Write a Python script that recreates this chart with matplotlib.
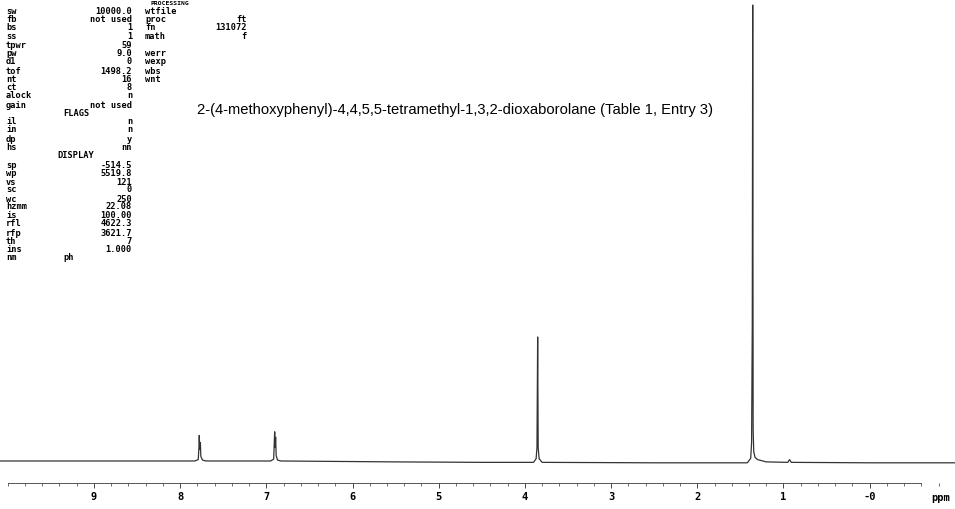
import matplotlib.pyplot as plt

# spectrum trace: (ppm, intensity), tallest peak = 100
ppm = [10.09, 9.0, 8.2, 7.83, 7.79, 7.782, 7.778, 7.772, 7.765, 7.76, 7.74, 7.70,
       7.2, 6.95, 6.915, 6.908, 6.903, 6.898, 6.892, 6.886, 6.87, 6.83,
       5.5, 4.5, 3.90, 3.87, 3.86, 3.852, 3.846, 3.835, 3.80,
       2.5, 1.42, 1.38, 1.37, 1.362, 1.357, 1.352, 1.345, 1.33, 1.30, 1.2,
       0.95, 0.93, 0.91, 0.0, -0.99]
intensity = [0, 0, 0, 0, 0.3, 3.0, 5.6, 2.5, 4.0, 1.0, 0.2, 0,
             0, 0, 0.4, 4.0, 6.4, 3.0, 5.2, 1.2, 0.2, 0,
             -0.2, -0.3, -0.3, 0.5, 3.0, 27.2, 3.0, 0.5, -0.3,
             -0.4, -0.4, 0.6, 4.0, 30.0, 100.0, 6.8, 2.0, 0.8, 0.3, -0.2,
             -0.3, 0.3, -0.3, -0.4, -0.4]

major_ticks = [9, 8, 7, 6, 5, 4, 3, 2, 1, 0]
major_labels = ['9', '8', '7', '6', '5', '4', '3', '2', '1', '-0']
minor_ticks = [round(10.0 - 0.2 * i, 1) for i in range(55)]

title = "2-(4-methoxyphenyl)-4,4,5,5-tetramethyl-1,3,2-dioxaborolane (Table 1, Entry 3)"

# Varian parameter printout: (name, value, y pixel)
params_col1 = [
    ("sw", "10000.0", 11), ("fb", "not used", 19.5), ("bs", "1", 28),
    ("ss", "1", 36.5), ("tpwr", "59", 45), ("pw", "9.0", 54), ("d1", "0", 62),
    ("tof", "1498.2", 71), ("nt", "16", 79), ("ct", "8", 88), ("alock", "n", 96),
    ("gain", "not used", 105), ("il", "n", 122), ("in", "n", 130),
    ("dp", "y", 139), ("hs", "nn", 148), ("sp", "-514.5", 165),
    ("wp", "5519.8", 173), ("vs", "121", 182), ("sc", "0", 190),
    ("wc", "250", 199), ("hzmm", "22.08", 207), ("is", "100.00", 216),
    ("rfl", "4622.3", 224), ("rfp", "3621.7", 233), ("th", "7", 241),
    ("ins", "1.000", 250), ("nm", "", 258),
]
params_col2 = [
    ("wtfile", "", 11), ("proc", "ft", 19.5), ("fn", "131072", 28),
    ("math", "f", 36.5), ("werr", "", 54), ("wexp", "", 62),
    ("wbs", "", 71), ("wnt", "", 79),
]
headers = [("FLAGS", 63, 113), ("DISPLAY", 57, 156), ("ph", 63, 258)]

W, H = 955, 509
fig = plt.figure(figsize=(W / 100, H / 100), dpi=100)
ax = fig.add_axes([0, 0, 1, 1])
ax.plot(ppm, intensity, color='#333333', lw=0.9)
ax.set_xlim(10.09, -0.99)
ax.set_ylim(-10.53, 101.1)

for s in ['left', 'right', 'top']:
    ax.spines[s].set_visible(False)
ax.spines['bottom'].set_position(('data', -4.8))
ax.spines['bottom'].set_bounds(10.0, -0.6)
ax.spines['bottom'].set_color('#555555')
ax.spines['bottom'].set_linewidth(0.7)
ax.set_yticks([])
ax.set_xticks(major_ticks)
ax.set_xticklabels(major_labels, fontsize=7.5, fontweight='bold', family='DejaVu Sans Mono')
ax.set_xticks(minor_ticks, minor=True)
ax.tick_params(axis='x', which='major', direction='out', length=3.5, width=0.7,
               color='#444444', pad=3)
ax.tick_params(axis='x', which='minor', direction='out', length=2, width=0.6,
               color='#555555')

fig.text(941 / W, 1 - 498 / H, "ppm", fontsize=7.5, fontweight='bold',
         family='DejaVu Sans Mono', va='center', ha='center')

fig.text(197 / W, 1 - 110 / H, title, fontsize=10.6, family='Liberation Sans',
         va='center', ha='left')

mono = dict(fontsize=6.2, fontweight='bold', family='DejaVu Sans Mono', va='center')
for name, val, y in params_col1:
    fig.text(6 / W, 1 - y / H, name, ha='left', **mono)
    if val:
        fig.text(132 / W, 1 - y / H, val, ha='right', **mono)
for name, val, y in params_col2:
    fig.text(145 / W, 1 - y / H, name, ha='left', **mono)
    if val:
        fig.text(247 / W, 1 - y / H, val, ha='right', **mono)
for txt, x, y in headers:
    fig.text(x / W, 1 - y / H, txt, ha='left', **mono)

# section header that sits half off the top edge in the scan
fig.text(150 / W, 1 - 3.2 / H, "PROCESSING", ha='left', va='center',
         fontsize=4.6, fontweight='bold', family='DejaVu Sans Mono')

fig.savefig("out.png", dpi=100)
